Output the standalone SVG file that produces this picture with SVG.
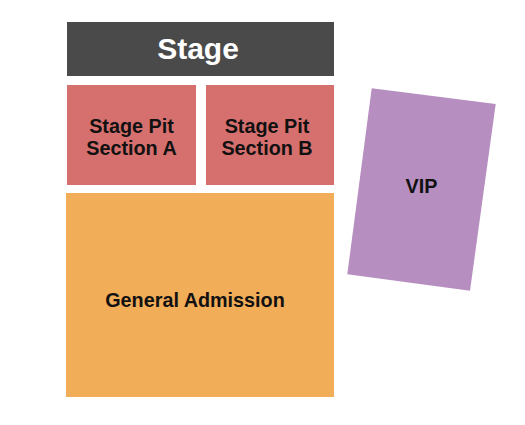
<svg xmlns="http://www.w3.org/2000/svg" width="525" height="425" viewBox="0 0 525 425">
<style>
.lbl{font-family:"Liberation Sans",Arial,sans-serif;font-weight:bold;text-anchor:middle;fill:#111}
.pit{fill:#d6706e}
</style>
<rect width="525" height="425" fill="#fff"/>
<g id="stage">
<rect x="67" y="22" width="267" height="54" fill="#4a4a4a"/>
<text class="lbl" x="198" y="59" font-size="30" style="fill:#fff">Stage</text>
</g>
<g id="pit-a">
<rect class="pit" x="67" y="85" width="129" height="100"/>
<text class="lbl" x="131.5" y="133" font-size="19.8">Stage Pit</text>
<text class="lbl" x="131.5" y="154.5" font-size="19.8">Section A</text>
</g>
<g id="pit-b">
<rect class="pit" x="206" y="85" width="128" height="100"/>
<text class="lbl" x="267" y="133" font-size="19.8">Stage Pit</text>
<text class="lbl" x="267" y="154.5" font-size="19.8">Section B</text>
</g>
<g id="general-admission">
<rect x="66" y="193" width="268" height="204" fill="#f1ad58"/>
<text class="lbl" x="195" y="306.5" font-size="19.8">General Admission</text>
</g>
<g id="vip">
<polygon points="371.7,88.3 495.7,104 470,290.7 347.3,274.3" fill="#b68ec0"/>
<text class="lbl" x="421.5" y="193" font-size="19.8">VIP</text>
</g>
<g id="connectors"></g>
</svg>
